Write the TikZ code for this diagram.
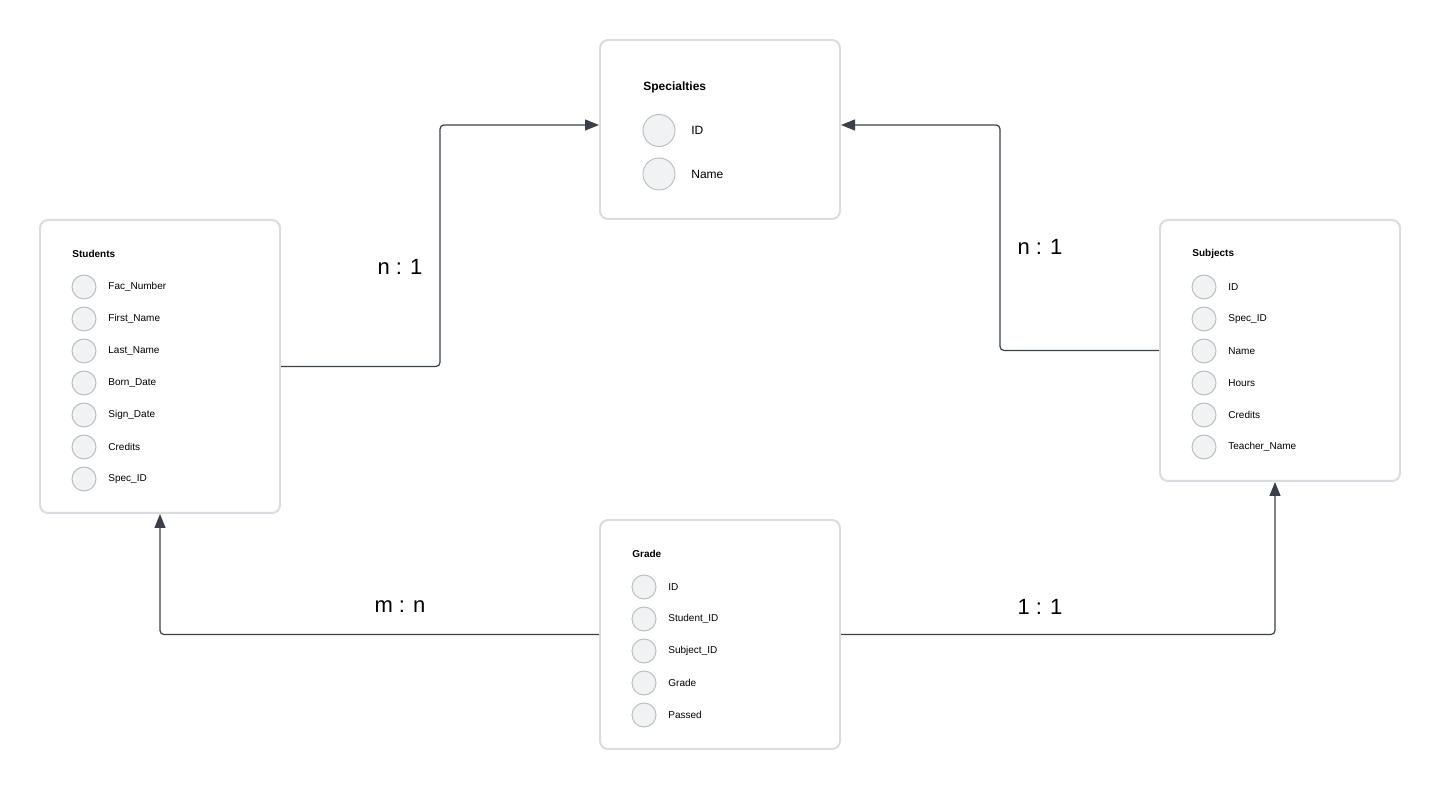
\documentclass[tikz,border=0pt]{standalone}
\usepackage{fontspec}
\setmainfont{Liberation Sans}
\usepackage{tikz}
\usetikzlibrary{arrows.meta}

\definecolor{boxline}{HTML}{DADCE0}
\definecolor{conline}{HTML}{3A4049}
\definecolor{dotfill}{HTML}{F1F2F4}
\definecolor{dotline}{HTML}{BDBFC2}

\begin{document}
\begin{tikzpicture}[x=0.5pt,y=-0.5pt,
  table/.style = {draw=boxline,line width=1pt,rounded corners=4pt,fill=white,minimum width=120pt},
  dot/.style = {draw=dotline,fill=dotfill,circle,line width=0.5pt,minimum size=12pt,inner sep=0pt},
  bigdot/.style = {dot,minimum size=16pt},
  attr/.style = {anchor=west,inner sep=0pt,font=\fontsize{5}{6}\selectfont},
  bigattr/.style = {attr,font=\fontsize{6}{7}\selectfont},
  title/.style = {attr,font=\fontsize{5}{6}\selectfont\bfseries},
  bigtitle/.style = {attr,font=\fontsize{6}{7}\selectfont\bfseries},
  conn/.style = {draw=conline,line width=0.6pt,rounded corners=2pt,-{Triangle[length=7pt,width=5.5pt]}},
  card/.style = {font=\fontsize{11}{13}\selectfont}]
\useasboundingbox (0,0) rectangle (1440,790);

% tablas
\node (Specialties) at (720,129.5) [table,minimum height=89.5pt] {};
\node (Students) at (160,366.5) [table,minimum height=146.5pt] {};
\node (Subjects) at (1280,350.5) [table,minimum height=130.5pt] {};
\node (Grade) at (720,634.5) [table,minimum height=114.5pt] {};

\node (SpecTitle) at (643,87) [bigtitle] {Specialties};
\node (StudTitle) at (72,254) [title] {Students};
\node (SubjTitle) at (1192,254) [title] {Subjects};
\node (GradeTitle) at (632,554) [title] {Grade};

% atributos
\foreach \t [count=\i] in {ID,Name} {
  \node (spc\i) at (659,{87+43.5*\i}) [bigdot] {};
  \node (spt\i) at (691,{87+43.5*\i}) [bigattr] {\t};
}
\foreach \t [count=\i] in {Fac\_Number,First\_Name,Last\_Name,Born\_Date,Sign\_Date,Credits,Spec\_ID} {
  \node (stc\i) at (84,{255+32*\i}) [dot] {};
  \node (stt\i) at (108,{255+32*\i}) [attr] {\t};
}
\foreach \t [count=\i] in {ID,Spec\_ID,Name,Hours,Credits,Teacher\_Name} {
  \node (suc\i) at (1204,{255+32*\i}) [dot] {};
  \node (sut\i) at (1228,{255+32*\i}) [attr] {\t};
}
\foreach \t [count=\i] in {ID,Student\_ID,Subject\_ID,Grade,Passed} {
  \node (grc\i) at (644,{555+32*\i}) [dot] {};
  \node (grt\i) at (668,{555+32*\i}) [attr] {\t};
}

% relaciones
\draw[conn] (Students.east) -- (440,366.5) |- ([yshift=2.25pt]Specialties.west);
\draw[conn] (Subjects.west) -- (1000,350.5) |- ([yshift=2.25pt]Specialties.east);
\draw[conn] (Grade.west) -| (Students.south);
\draw[conn] (Grade.east) -| ([xshift=-2.5pt]Subjects.south);

\node (ss) at (400,267) [card] {n : 1};
\node (su) at (1040,247) [card] {n : 1};
\node (gs) at (400,607) [card] {m : n};
\node (gu) at (1040,607) [card] {1 : 1};

\end{tikzpicture}
\end{document}
